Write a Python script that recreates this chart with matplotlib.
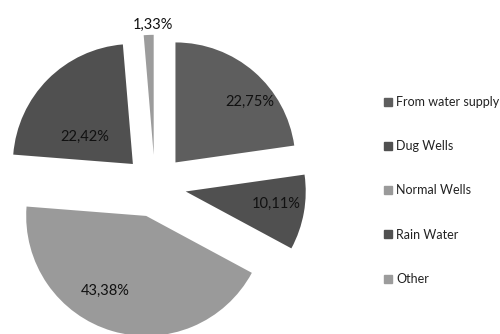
import numpy as np
import matplotlib.pyplot as plt
from matplotlib.lines import Line2D

plt.rcParams["font.family"] = ["Lato", "DejaVu Sans"]

# water source shares (%)
sources = ["From water supply", "Dug Wells", "Normal Wells", "Rain Water", "Other"]
shares = [22.75, 10.11, 43.38, 22.42, 1.33]
pct_labels = ["22,75%", "10,11%", "43,38%", "22,42%", "1,33%"]
colors = ["#5e5e5e", "#505050", "#9a9a9a", "#505050", "#9c9c9c"]

# label placement per slice: radial distance, angular shift (deg)
label_dist = [0.80, 0.76, 0.71, 0.46, 1.08]
label_shift = [-10, 2, -12, 15, -2]

fig = plt.figure(figsize=(5, 3.34), dpi=100)
# axes sized so that radius 1 = 120 px, centre at (155, 186) px
ax = fig.add_axes([-5 / 500, -12 / 334, 320 / 500, 320 / 334])

wedges, _ = ax.pie(
    shares,
    colors=colors,
    startangle=90,
    counterclock=False,
    explode=[0.26] * len(shares),
    radius=1,
    wedgeprops=dict(linewidth=0),
)

for w, txt, d, s in zip(wedges, pct_labels, label_dist, label_shift):
    mid = np.deg2rad((w.theta1 + w.theta2) / 2 + s)
    cx, cy = w.center
    ax.text(cx + d * np.cos(mid), cy + d * np.sin(mid), txt,
            ha="center", va="center", fontsize=10.5, color="#111111")

ax.set_xlim(-1.3333, 1.3333)
ax.set_ylim(-1.3333, 1.3333)
ax.set_aspect("equal")
ax.axis("off")

handles = [Line2D([], [], marker="s", linestyle="", markersize=5.5,
                  markerfacecolor=c, markeredgecolor=c) for c in colors]
fig.legend(handles, sources, loc="upper left", bbox_to_anchor=(379 / 500, 1 - 91 / 334),
           frameon=False, fontsize=9, labelspacing=2.58, handlelength=0.7,
           handletextpad=0.3, borderaxespad=0, labelcolor="#222222")

fig.savefig("out.png", dpi=100)
